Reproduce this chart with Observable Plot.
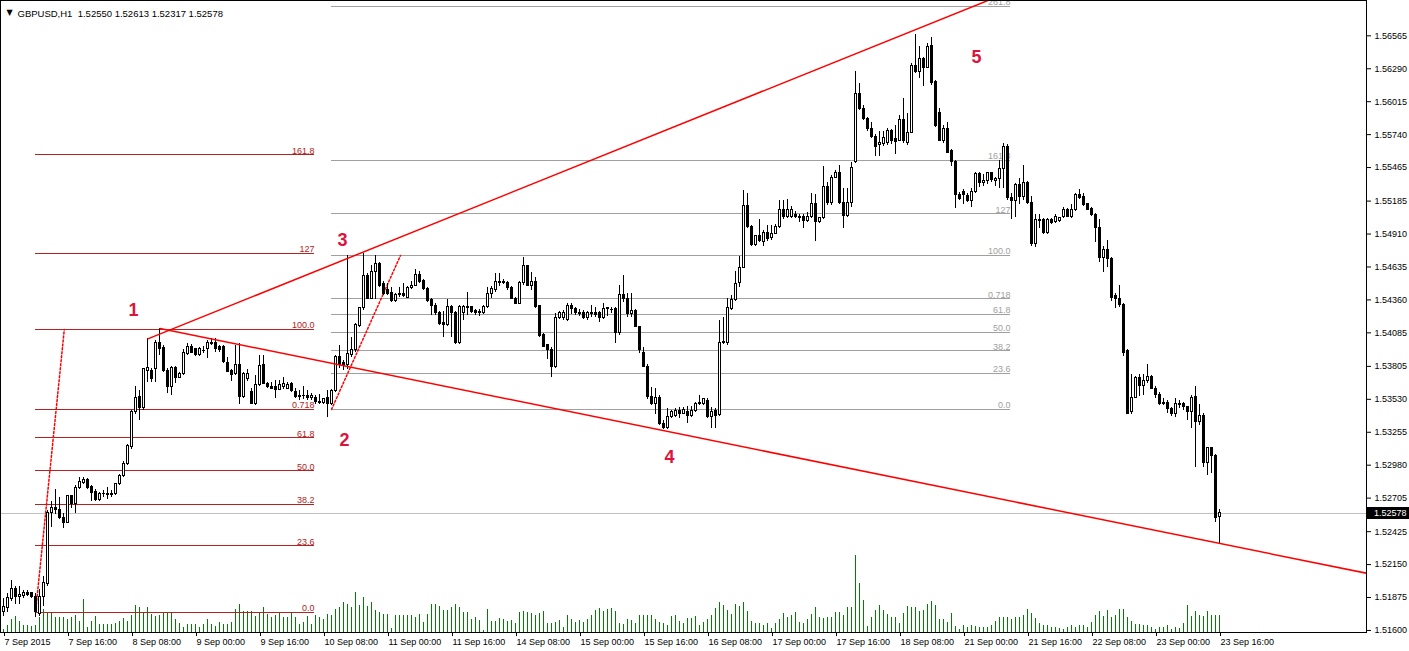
<!DOCTYPE html>
<html><head><meta charset="utf-8">
<script src="https://cdn.jsdelivr.net/npm/d3@7"></script>
<script src="https://cdn.jsdelivr.net/npm/@observablehq/plot@0.6"></script>
<style>
html,body{margin:0;padding:0;background:#fff;overflow:hidden;}
#wrap{position:relative;width:1409px;height:651px;overflow:hidden;background:#fff;}
#wrap svg{position:absolute;left:0;top:0;}
</style></head><body><div id="wrap"></div>
<script>
// ---- GBPUSD H1 candles (7 Sep 2015 00:00 .. 23 Sep 2015 16:00), bar index = hour slot
const open=[
1.5175,1.5179,1.5186,1.5195,1.5188,1.5189,1.5191,1.5191,1.5188,1.5174,
1.5188,1.5199,1.5258,1.5262,1.5261,1.5254,1.5250,1.5272,1.5266,1.5279,
1.5283,1.5286,1.5280,1.5276,1.5269,1.5274,1.5274,1.5273,1.5274,1.5282,
1.5289,1.5299,1.5313,1.5342,1.5355,1.5346,1.5377,1.5377,1.5378,1.5400,
1.5396,1.5377,1.5363,1.5379,1.5371,1.5374,1.5391,1.5397,1.5395,1.5390,
1.5394,1.5395,1.5399,1.5400,1.5397,1.5397,1.5383,1.5377,1.5374,1.5382,
1.5355,1.5370,1.5359,1.5349,1.5365,1.5382,1.5366,1.5363,1.5363,1.5361,
1.5363,1.5362,1.5366,1.5359,1.5355,1.5356,1.5356,1.5354,1.5354,1.5351,
1.5350,1.5354,1.5349,1.5360,1.5388,1.5383,1.5382,1.5390,1.5394,1.5414,
1.5429,1.5456,1.5437,1.5459,1.5466,1.5449,1.5444,1.5442,1.5435,1.5440,
1.5441,1.5438,1.5446,1.5448,1.5457,1.5452,1.5445,1.5436,1.5431,1.5425,
1.5417,1.5415,1.5430,1.5425,1.5400,1.5425,1.5430,1.5430,1.5427,1.5426,
1.5425,1.5430,1.5441,1.5444,1.5451,1.5450,1.5450,1.5446,1.5437,1.5433,
1.5450,1.5464,1.5448,1.5451,1.5431,1.5407,1.5398,1.5394,1.5380,1.5421,
1.5421,1.5419,1.5431,1.5428,1.5425,1.5425,1.5421,1.5425,1.5425,1.5425,
1.5421,1.5428,1.5428,1.5428,1.5408,1.5440,1.5437,1.5424,1.5427,1.5413,
1.5392,1.5380,1.5355,1.5349,1.5354,1.5332,1.5329,1.5338,1.5339,1.5343,
1.5341,1.5342,1.5339,1.5343,1.5349,1.5349,1.5352,1.5338,1.5343,1.5340,
1.5400,1.5400,1.5428,1.5436,1.5450,1.5463,1.5514,1.5497,1.5482,1.5489,
1.5484,1.5492,1.5488,1.5491,1.5497,1.5511,1.5505,1.5505,1.5507,1.5505,
1.5505,1.5502,1.5505,1.5516,1.5501,1.5504,1.5530,1.5517,1.5538,1.5542,
1.5517,1.5506,1.5517,1.5551,1.5608,1.5595,1.5587,1.5579,1.5572,1.5565,
1.5566,1.5567,1.5577,1.5570,1.5569,1.5586,1.5567,1.5575,1.5631,1.5626,
1.5637,1.5630,1.5648,1.5618,1.5592,1.5569,1.5579,1.5560,1.5551,1.5524,
1.5526,1.5523,1.5519,1.5526,1.5541,1.5534,1.5535,1.5542,1.5535,1.5537,
1.5545,1.5564,1.5521,1.5519,1.5532,1.5522,1.5534,1.5517,1.5483,1.5503,
1.5503,1.5492,1.5503,1.5501,1.5502,1.5505,1.5511,1.5505,1.5511,1.5524,
1.5522,1.5516,1.5512,1.5507,1.5496,1.5471,1.5478,1.5470,1.5439,1.5437,
1.5432,1.5393,1.5342,1.5354,1.5371,1.5364,1.5368,1.5372,1.5362,1.5357,
1.5349,1.5350,1.5345,1.5341,1.5348,1.5349,1.5347,1.5342,1.5355,1.5334,
1.5339,1.5300,1.5312,1.5306,1.52550];
const high=[
1.5187,1.5191,1.5202,1.5197,1.5197,1.5193,1.5193,1.5192,1.5191,1.5194,
1.5205,1.5260,1.5268,1.5278,1.5271,1.5258,1.5273,1.5273,1.5281,1.5288,
1.5288,1.5287,1.5281,1.5278,1.5275,1.5277,1.5279,1.5277,1.5283,1.5290,
1.5301,1.5315,1.5344,1.5364,1.5360,1.5379,1.5404,1.5379,1.5402,1.5412,
1.5398,1.5379,1.5380,1.5380,1.5375,1.5395,1.5400,1.5399,1.5395,1.5396,
1.5397,1.5402,1.5404,1.5404,1.5398,1.5398,1.5388,1.5378,1.5398,1.5400,
1.5375,1.5378,1.5362,1.5373,1.5390,1.5390,1.5367,1.5367,1.5369,1.5369,
1.5371,1.5367,1.5367,1.5362,1.5360,1.5364,1.5360,1.5358,1.5356,1.5357,
1.5354,1.5360,1.5361,1.5390,1.5398,1.5385,1.5473,1.5405,1.5416,1.5430,
1.5475,1.5458,1.5465,1.5473,1.5467,1.5451,1.5450,1.5446,1.5441,1.5446,
1.5450,1.5447,1.5451,1.5461,1.5460,1.5453,1.5446,1.5437,1.5433,1.5426,
1.5426,1.5436,1.5431,1.5426,1.5431,1.5431,1.5442,1.5430,1.5428,1.5428,
1.5431,1.5446,1.5447,1.5458,1.5458,1.5453,1.5451,1.5447,1.5438,1.5451,
1.5471,1.5465,1.5459,1.5455,1.5431,1.5408,1.5399,1.5396,1.5425,1.5426,
1.5427,1.5433,1.5433,1.5430,1.5428,1.5427,1.5426,1.5431,1.5430,1.5426,
1.5433,1.5430,1.5430,1.5430,1.5448,1.5456,1.5441,1.5441,1.5428,1.5414,
1.5396,1.5382,1.5363,1.5362,1.5356,1.5335,1.5345,1.5344,1.5345,1.5346,
1.5346,1.5347,1.5347,1.5350,1.5356,1.5354,1.5354,1.5346,1.5345,1.5419,
1.5421,1.5437,1.5440,1.5460,1.5472,1.5527,1.5525,1.5498,1.5490,1.5503,
1.5494,1.5498,1.5498,1.5499,1.5519,1.5519,1.5520,1.5514,1.5510,1.5507,
1.5507,1.5509,1.5525,1.5524,1.5505,1.5547,1.5534,1.5540,1.5544,1.5548,
1.5529,1.5529,1.5551,1.5627,1.5617,1.5598,1.5588,1.5584,1.5574,1.5577,
1.5577,1.5579,1.5578,1.5582,1.5590,1.5604,1.5592,1.5633,1.5658,1.5648,
1.5638,1.5650,1.5655,1.5619,1.5596,1.5582,1.5584,1.5562,1.5552,1.5526,
1.5528,1.5525,1.5529,1.5542,1.5542,1.5541,1.5542,1.5542,1.5538,1.5552,
1.5567,1.5566,1.5525,1.5533,1.5537,1.5548,1.5535,1.5522,1.5507,1.5507,
1.5504,1.5504,1.5504,1.5507,1.5505,1.5513,1.5512,1.5516,1.5525,1.5528,
1.5525,1.5516,1.5513,1.5508,1.5503,1.5481,1.5486,1.5471,1.5441,1.5448,
1.5433,1.5395,1.5374,1.5372,1.5374,1.5374,1.5382,1.5373,1.5364,1.5359,
1.5354,1.5352,1.5346,1.5354,1.5352,1.5350,1.5347,1.5356,1.5364,1.5349,
1.5341,1.5313,1.5313,1.5307,1.52613];
const low=[
1.5172,1.5175,1.5184,1.5182,1.5182,1.5187,1.5188,1.5187,1.5171,1.5172,
1.5180,1.5197,1.5246,1.5257,1.5253,1.5245,1.5249,1.5262,1.5258,1.5278,
1.5282,1.5278,1.5268,1.5268,1.5268,1.5271,1.5269,1.5271,1.5273,1.5281,
1.5288,1.5298,1.5311,1.5340,1.5335,1.5344,1.5367,1.5367,1.5367,1.5390,
1.5375,1.5358,1.5356,1.5366,1.5370,1.5373,1.5390,1.5391,1.5389,1.5389,
1.5391,1.5387,1.5398,1.5392,1.5392,1.5383,1.5375,1.5368,1.5373,1.5349,
1.5354,1.5368,1.5349,1.5348,1.5364,1.5365,1.5362,1.5361,1.5354,1.5360,
1.5361,1.5361,1.5359,1.5354,1.5352,1.5353,1.5352,1.5352,1.5349,1.5349,
1.5349,1.5338,1.5348,1.5359,1.5379,1.5377,1.5378,1.5388,1.5392,1.5413,
1.5427,1.5436,1.5436,1.5436,1.5446,1.5440,1.5440,1.5434,1.5434,1.5438,
1.5438,1.5437,1.5445,1.5447,1.5450,1.5444,1.5434,1.5423,1.5423,1.5415,
1.5405,1.5414,1.5405,1.5399,1.5399,1.5419,1.5423,1.5425,1.5423,1.5422,
1.5424,1.5429,1.5437,1.5442,1.5447,1.5449,1.5444,1.5436,1.5432,1.5432,
1.5448,1.5447,1.5444,1.5429,1.5405,1.5396,1.5386,1.5371,1.5379,1.5420,
1.5419,1.5418,1.5424,1.5423,1.5422,1.5420,1.5419,1.5421,1.5421,1.5417,
1.5420,1.5422,1.5425,1.5400,1.5406,1.5434,1.5421,1.5421,1.5413,1.5391,
1.5380,1.5353,1.5348,1.5340,1.5331,1.5328,1.5328,1.5337,1.5338,1.5337,
1.5340,1.5333,1.5338,1.5342,1.5348,1.5348,1.5337,1.5329,1.5329,1.5339,
1.5399,1.5398,1.5427,1.5435,1.5446,1.5462,1.5496,1.5481,1.5481,1.5484,
1.5481,1.5485,1.5486,1.5491,1.5496,1.5503,1.5504,1.5504,1.5504,1.5501,
1.5496,1.5501,1.5504,1.5485,1.5500,1.5503,1.5515,1.5515,1.5537,1.5516,
1.5496,1.5505,1.5513,1.5550,1.5594,1.5586,1.5577,1.5571,1.5556,1.5556,
1.5564,1.5565,1.5566,1.5557,1.5568,1.5567,1.5565,1.5575,1.5625,1.5621,
1.5614,1.5629,1.5615,1.5580,1.5568,1.5567,1.5558,1.5547,1.5512,1.5519,
1.5516,1.5517,1.5513,1.5525,1.5530,1.5531,1.5532,1.5534,1.5531,1.5529,
1.5529,1.5519,1.5503,1.5505,1.5516,1.5519,1.5516,1.5481,1.5480,1.5496,
1.5491,1.5491,1.5499,1.5500,1.5501,1.5504,1.5505,1.5504,1.5510,1.5520,
1.5514,1.5511,1.5506,1.5484,1.5467,1.5459,1.5463,1.5435,1.5429,1.5430,
1.5389,1.5340,1.5340,1.5354,1.5355,1.5356,1.5366,1.5361,1.5354,1.5348,
1.5348,1.5341,1.5339,1.5338,1.5345,1.5344,1.5335,1.5329,1.5296,1.5331,
1.5296,1.5289,1.5291,1.5250,1.52317];
const close=[
1.5180,1.5187,1.5195,1.5188,1.5190,1.5191,1.5190,1.5188,1.5175,1.5188,
1.5200,1.5258,1.5262,1.5261,1.5254,1.5250,1.5272,1.5266,1.5279,1.5284,
1.5286,1.5279,1.5275,1.5269,1.5274,1.5274,1.5273,1.5274,1.5282,1.5289,
1.5299,1.5314,1.5342,1.5354,1.5346,1.5378,1.5379,1.5370,1.5400,1.5395,
1.5377,1.5363,1.5379,1.5371,1.5374,1.5392,1.5397,1.5392,1.5390,1.5395,
1.5394,1.5400,1.5400,1.5395,1.5394,1.5384,1.5376,1.5373,1.5382,1.5355,
1.5374,1.5374,1.5349,1.5365,1.5381,1.5366,1.5363,1.5362,1.5361,1.5365,
1.5366,1.5365,1.5360,1.5355,1.5356,1.5356,1.5354,1.5356,1.5351,1.5350,
1.5353,1.5349,1.5360,1.5388,1.5382,1.5381,1.5391,1.5394,1.5415,1.5429,
1.5456,1.5437,1.5459,1.5466,1.5448,1.5441,1.5441,1.5435,1.5440,1.5441,
1.5439,1.5446,1.5448,1.5457,1.5451,1.5445,1.5435,1.5431,1.5425,1.5416,
1.5415,1.5430,1.5425,1.5400,1.5430,1.5430,1.5429,1.5426,1.5425,1.5425,
1.5430,1.5441,1.5445,1.5451,1.5450,1.5451,1.5446,1.5437,1.5433,1.5450,
1.5464,1.5448,1.5451,1.5430,1.5406,1.5397,1.5394,1.5380,1.5421,1.5425,
1.5425,1.5431,1.5428,1.5425,1.5424,1.5421,1.5425,1.5424,1.5423,1.5421,
1.5428,1.5429,1.5428,1.5408,1.5440,1.5437,1.5424,1.5427,1.5413,1.5394,
1.5380,1.5355,1.5349,1.5354,1.5332,1.5329,1.5338,1.5342,1.5343,1.5341,
1.5344,1.5339,1.5343,1.5349,1.5350,1.5353,1.5338,1.5342,1.5339,1.5400,
1.5401,1.5429,1.5436,1.5449,1.5463,1.5514,1.5497,1.5482,1.5489,1.5485,
1.5492,1.5487,1.5491,1.5497,1.5511,1.5505,1.5511,1.5511,1.5505,1.5504,
1.5502,1.5505,1.5516,1.5501,1.5504,1.5530,1.5517,1.5538,1.5542,1.5517,
1.5506,1.5517,1.5546,1.5608,1.5595,1.5587,1.5579,1.5572,1.5564,1.5567,
1.5571,1.5577,1.5569,1.5568,1.5586,1.5569,1.5575,1.5631,1.5626,1.5637,
1.5630,1.5647,1.5617,1.5581,1.5569,1.5579,1.5559,1.5551,1.5524,1.5520,
1.5524,1.5519,1.5526,1.5541,1.5534,1.5535,1.5542,1.5536,1.5537,1.5545,
1.5564,1.5521,1.5519,1.5532,1.5522,1.5534,1.5517,1.5483,1.5503,1.5502,
1.5492,1.5503,1.5500,1.5505,1.5504,1.5511,1.5505,1.5511,1.5524,1.5521,
1.5515,1.5511,1.5507,1.5496,1.5471,1.5478,1.5470,1.5438,1.5437,1.5432,
1.5392,1.5341,1.5354,1.5371,1.5364,1.5368,1.5372,1.5362,1.5357,1.5349,
1.5350,1.5345,1.5341,1.5349,1.5349,1.5347,1.5342,1.5354,1.5334,1.5339,
1.5300,1.5312,1.5306,1.5254,1.52578];
const volume=[
30,70,130,160,110,70,70,60,70,150,
230,200,190,150,150,150,130,150,170,110,
330,50,110,160,80,80,80,80,90,110,
140,110,170,270,250,190,250,180,160,170,
200,200,200,130,90,50,80,80,80,50,
80,130,80,60,100,80,80,100,230,280,
210,210,210,160,190,250,180,150,170,200,
150,150,190,150,80,100,160,80,170,150,
130,180,170,230,250,300,280,250,400,270,
350,260,300,220,200,180,180,40,170,170,
170,170,170,150,180,100,180,280,280,260,
220,220,250,280,250,200,200,130,150,120,
20,230,110,110,140,130,110,120,90,200,
210,200,190,170,190,210,90,90,100,120,
50,170,130,100,120,100,130,170,220,240,
210,230,240,210,90,80,130,120,90,170,
170,170,170,130,100,90,70,160,170,110,
90,140,140,160,70,100,130,170,240,300,
270,220,180,280,260,300,210,110,90,90,
70,90,40,90,130,190,150,170,200,100,
90,130,180,250,150,140,150,150,200,200,
170,250,250,780,500,320,60,150,220,270,
220,180,150,150,90,190,260,250,250,210,
220,280,310,270,130,130,100,190,60,30,
70,50,70,60,50,50,50,70,110,150,
150,150,130,150,150,170,230,190,140,90,
70,70,50,50,40,30,50,70,50,70,
70,50,100,170,210,160,220,150,170,230,
230,150,110,80,80,70,70,50,30,50,
50,70,30,50,40,90,270,160,210,170,
160,210,170,170,170];

// ---- axis labels
const dateTickBars=[0,16,32,48,64,80,96,112,128,144,160,176,192,208,224,240,256,272,288,304];
const dateLabels=["7 Sep 2015","7 Sep 16:00","8 Sep 08:00","9 Sep 00:00","9 Sep 16:00","10 Sep 08:00",
"11 Sep 00:00","11 Sep 16:00","14 Sep 08:00","15 Sep 00:00","15 Sep 16:00","16 Sep 08:00","17 Sep 00:00",
"17 Sep 16:00","18 Sep 08:00","21 Sep 00:00","21 Sep 16:00","22 Sep 08:00","23 Sep 00:00","23 Sep 16:00"];
const priceTicks=[1.56565,1.56290,1.56015,1.55740,1.55465,1.55185,1.54910,1.54635,1.54360,1.54085,
1.53805,1.53530,1.53255,1.52980,1.52705,1.52425,1.52150,1.51875,1.51600];

// ---- Fibonacci retracements
const fibRatios=[0,23.6,38.2,50,61.8,71.8,100,127,161.8,261.8];
const fibLabels=["0.0","23.6","38.2","50.0","61.8","0.718","100.0","127","161.8","261.8"];
const fib1Anchor={bars:[8,15.2], prices:[1.5175,1.54113], lineEnd:77.75, levels:9};
const fib2Anchor={bars:[82,99.25], prices:[1.53445,1.54731], lineEnd:251.75, levels:10};

// ---- trend lines and wave labels
const upperTrendBars=[36.08,340.75], upperTrendPrices=[1.54035,1.58133];
const lowerTrendBars=[39.15,340.75], lowerTrendPrices=[1.54121,1.52078];
const waveText=["1","2","3","4","5"];
const waveBars=[32.5,85.25,84.75,166.5,243.25];
const wavePrices=[1.54272,1.53186,1.54856,1.53044,1.56384];

// ---- layout
const W=1409,H=651,mL=0,mR=43,mT=0,mB=19;
const xDom=[-0.75,340.75], yDom=[1.51583,1.5686];
const FONT="Liberation Sans, Arial, sans-serif";
const fibRed="#b22222", fibGrey="#a0a0a0", lineRed="#ff0000", waveRed="#dc143c";

const bars=open.map((o,i)=>({i,o,h:high[i],l:low[i],c:close[i]}));
const upBars=bars.filter(d=>d.c>d.o), dnBars=bars.filter(d=>d.c<d.o), flatBars=bars.filter(d=>d.c===d.o);

function fibLevels(a){
  const lo=a.prices[0], hi=a.prices[1];
  return fibRatios.slice(0,a.levels).map((r,k)=>({p:lo+r/100*(hi-lo),label:fibLabels[k],x1:a.bars[0],x2:a.lineEnd}));
}
const fib1=fibLevels(fib1Anchor), fib2=fibLevels(fib2Anchor);
const diag1=fib1Anchor.bars.map((b,k)=>({i:b,p:fib1Anchor.prices[k]}));
const diag2=fib2Anchor.bars.map((b,k)=>({i:b,p:fib2Anchor.prices[k]}));
const upperT=upperTrendBars.map((b,k)=>({i:b,p:upperTrendPrices[k]}));
const lowerT=lowerTrendBars.map((b,k)=>({i:b,p:lowerTrendPrices[k]}));
const waves=waveText.map((t,k)=>({t,i:waveBars[k],p:wavePrices[k]}));
const last=bars[bars.length-1];
const header=`GBPUSD,H1  ${last.o.toFixed(5)} ${last.h.toFixed(5)} ${last.l.toFixed(5)} ${last.c.toFixed(5)}`;

const volPlot=Plot.plot({
  width:W,height:H,marginLeft:mL,marginRight:mR,marginTop:mT,marginBottom:mB,
  x:{domain:xDom,axis:null}, y:{domain:[0,d3.max(volume)/0.122],axis:null},
  style:{background:"white"},
  marks:[Plot.ruleX(volume.map((v,i)=>({i,v,z:0})),{x:"i",y1:"z",y2:"v",stroke:"#008000",shapeRendering:"crispEdges"})]
});

const main=Plot.plot({
  width:W,height:H,marginLeft:mL,marginRight:mR,marginTop:mT,marginBottom:mB,
  x:{domain:xDom}, y:{domain:yDom},
  style:{background:"transparent",fontFamily:FONT,fontSize:"9px",color:"black"},
  marks:[
    Plot.ruleY([last.c],{stroke:"#c0c0c0",shapeRendering:"crispEdges"}),
    Plot.ruleY(fib1,{y:"p",x1:"x1",x2:"x2",stroke:fibRed,shapeRendering:"crispEdges"}),
    Plot.ruleY(fib2,{y:"p",x1:"x1",x2:"x2",stroke:fibGrey,shapeRendering:"crispEdges"}),
    Plot.text(fib1,{x:"x2",y:"p",text:"label",textAnchor:"end",lineAnchor:"bottom",dy:-1,fill:fibRed,fontSize:9,fontFamily:FONT}),
    Plot.text(fib2,{x:"x2",y:"p",text:"label",textAnchor:"end",lineAnchor:"bottom",dy:-1,fill:fibGrey,fontSize:9,fontFamily:FONT}),
    Plot.line(diag1,{x:"i",y:"p",stroke:lineRed,strokeDasharray:"2,2"}),
    Plot.line(diag2,{x:"i",y:"p",stroke:lineRed,strokeDasharray:"2,2"}),
    Plot.ruleX(bars,{x:"i",y1:"l",y2:"h",stroke:"black",shapeRendering:"crispEdges"}),
    Plot.rect(upBars,{x1:d=>d.i-0.25,x2:d=>d.i+0.25,y1:"o",y2:"c",fill:"white",stroke:"black",shapeRendering:"crispEdges"}),
    Plot.rect(dnBars,{x1:d=>d.i-0.25,x2:d=>d.i+0.25,y1:"o",y2:"c",fill:"black",stroke:"black",shapeRendering:"crispEdges"}),
    Plot.ruleY(flatBars,{y:"o",x1:d=>d.i-0.375,x2:d=>d.i+0.375,stroke:"black",shapeRendering:"crispEdges"}),
    Plot.line(upperT,{x:"i",y:"p",stroke:lineRed,clip:true}),
    Plot.line(lowerT,{x:"i",y:"p",stroke:lineRed,clip:true}),
    Plot.text(waves,{x:"i",y:"p",text:"t",fill:waveRed,fontWeight:"bold",fontSize:18,fontFamily:"Liberation Sans, Arial, sans-serif"}),
    Plot.text(["▼"],{frameAnchor:"top-left",dx:9,dy:9,fontSize:8,textAnchor:"middle",fill:"black",fontFamily:"DejaVu Sans"}),
    Plot.text([header],{frameAnchor:"top-left",dx:17,dy:10,fontSize:9.5,textAnchor:"start",fill:"black",fontFamily:FONT}),
    Plot.axisX(dateTickBars,{anchor:"bottom",tickSize:4,tickPadding:2,tickFormat:d=>dateLabels[dateTickBars.indexOf(d)],textAnchor:"start",dx:1,fontSize:9,fontFamily:FONT}),
    Plot.axisY(priceTicks,{anchor:"right",tickSize:4,tickPadding:4,tickFormat:d=>d.toFixed(5),fontSize:9,fontFamily:FONT}),
    Plot.frame({stroke:"black",shapeRendering:"crispEdges"})
  ]
});

// current price tag on the price axis
const ys=main.scale("y");
const yy=Math.round(ys.apply(last.c));
const svg=d3.select(main);
svg.append("rect").attr("x",W-mR+1).attr("y",yy-6).attr("width",mR-1).attr("height",12).attr("fill","black");
svg.append("text").attr("x",W-mR+8).attr("y",yy).attr("dy","0.35em").attr("fill","white")
  .attr("text-anchor","start").attr("font-size",9).attr("font-family",FONT).text(last.c.toFixed(5));

const wrap=document.getElementById("wrap");
wrap.appendChild(volPlot);
wrap.appendChild(main);
</script>
</body></html>
